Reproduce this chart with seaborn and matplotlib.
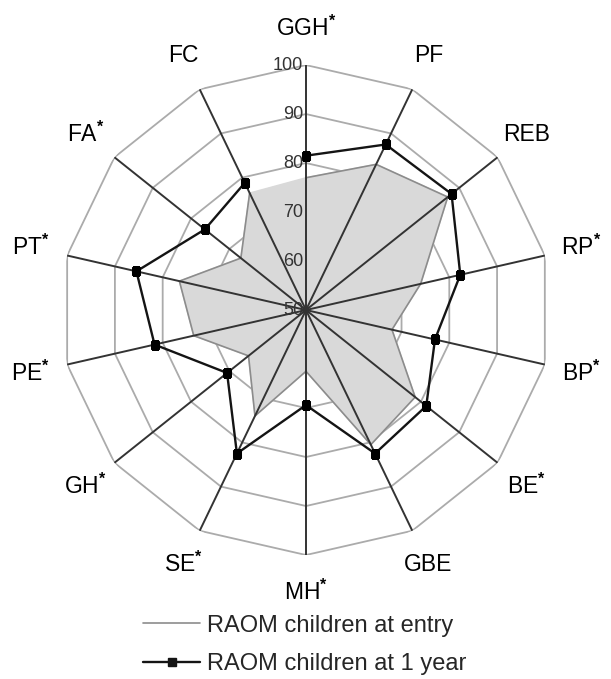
import numpy as np
import matplotlib
matplotlib.use("Agg")
import matplotlib.pyplot as plt
import seaborn as sns
import pandas as pd
from matplotlib.lines import Line2D

categories = ["GGH", "PF", "REB", "RP", "BP", "BE", "GBE", "MH", "SE", "GH", "PE", "PT", "FA", "FC"]
starred = [True, False, False, True, True, True, False, True, True, True, True, True, True, False]
entry_vals = [77, 83, 87, 74, 68, 78.5, 80.5, 62.5, 74, 65, 73.5, 76.5, 67, 76.5]
year1_vals = [81.5, 87.5, 88, 82.3, 77, 81.4, 82.5, 69.4, 82.5, 70.6, 81.7, 85.5, 76.4, 78.8]
r_ticks = [50, 60, 70, 80, 90, 100]
series_names = ["RAOM children at entry", "RAOM children at 1 year"]

sns.set_style("white")
plt.rcParams["font.family"] = ["Liberation Sans", "DejaVu Sans"]
plt.rcParams["mathtext.fontset"] = "custom"
plt.rcParams["mathtext.rm"] = "Liberation Sans:bold"
plt.rcParams["mathtext.it"] = "Liberation Sans:bold"
plt.rcParams["mathtext.bf"] = "Liberation Sans:bold"

n = len(categories)
theta = np.linspace(0, 2 * np.pi, n, endpoint=False)
theta_c = np.concatenate([theta, theta[:1]])

fig = plt.figure(figsize=(6.11, 6.79), dpi=100)
ax = fig.add_axes([0.0998, 0.1826, 0.802, 0.7216], projection="polar")
ax.set_theta_zero_location("N")
ax.set_theta_direction(-1)
ax.set_ylim(50, 100)
ax.grid(False)
ax.spines["polar"].set_visible(False)
ax.set_xticks([])
ax.set_yticks([])
ax.set_facecolor("none")

# polygon grid
for rv in r_ticks[1:]:
    ax.plot(theta_c, [rv] * (n + 1), color="#ababab", lw=1.3, zorder=1)

# entry series (filled)
ax.fill(theta_c, np.concatenate([entry_vals, entry_vals[:1]]), color="#d9d9d9", zorder=2)
df_e = pd.DataFrame({"t": theta_c, "r": np.concatenate([entry_vals, entry_vals[:1]])})
sns.lineplot(data=df_e, x="t", y="r", sort=False, ax=ax, color="#8c8c8c", lw=1.2, zorder=3)

# spokes
for t in theta:
    ax.plot([t, t], [50, 100], color="#333333", lw=1.4, zorder=4)

# 1 year series
df_y = pd.DataFrame({"t": theta_c, "r": np.concatenate([year1_vals, year1_vals[:1]])})
sns.lineplot(data=df_y, x="t", y="r", sort=False, ax=ax, color="#141414", lw=1.7,
             marker="s", markersize=6, markeredgecolor="black", markerfacecolor="black", zorder=5)
ax.set_xlabel("")
ax.set_ylabel("")
ax.set_ylim(50, 100)

# radial tick labels
for rv in r_ticks:
    ax.annotate(str(rv), xy=(0, rv), xytext=(-2, 0), textcoords="offset points",
                ha="right", va="center", fontsize=13, color="#333333", zorder=6)

# category labels
for t, c, s in zip(theta, categories, starred):
    lab = c + (r"$^{*}$" if s else "")
    ax.text(t, 107.6, lab, ha="center", va="center", fontsize=16.5, color="black")

handles = [Line2D([], [], color="#8c8c8c", lw=1.2),
           Line2D([], [], color="#141414", lw=1.7, marker="s", markersize=6)]
fig.legend(handles, series_names, loc="upper left", bbox_to_anchor=(0.215, 0.112),
           frameon=False, fontsize=17, handlelength=2.4, handletextpad=0.3,
           labelspacing=0.7, borderpad=0)

fig.savefig("out.png", dpi=100)
